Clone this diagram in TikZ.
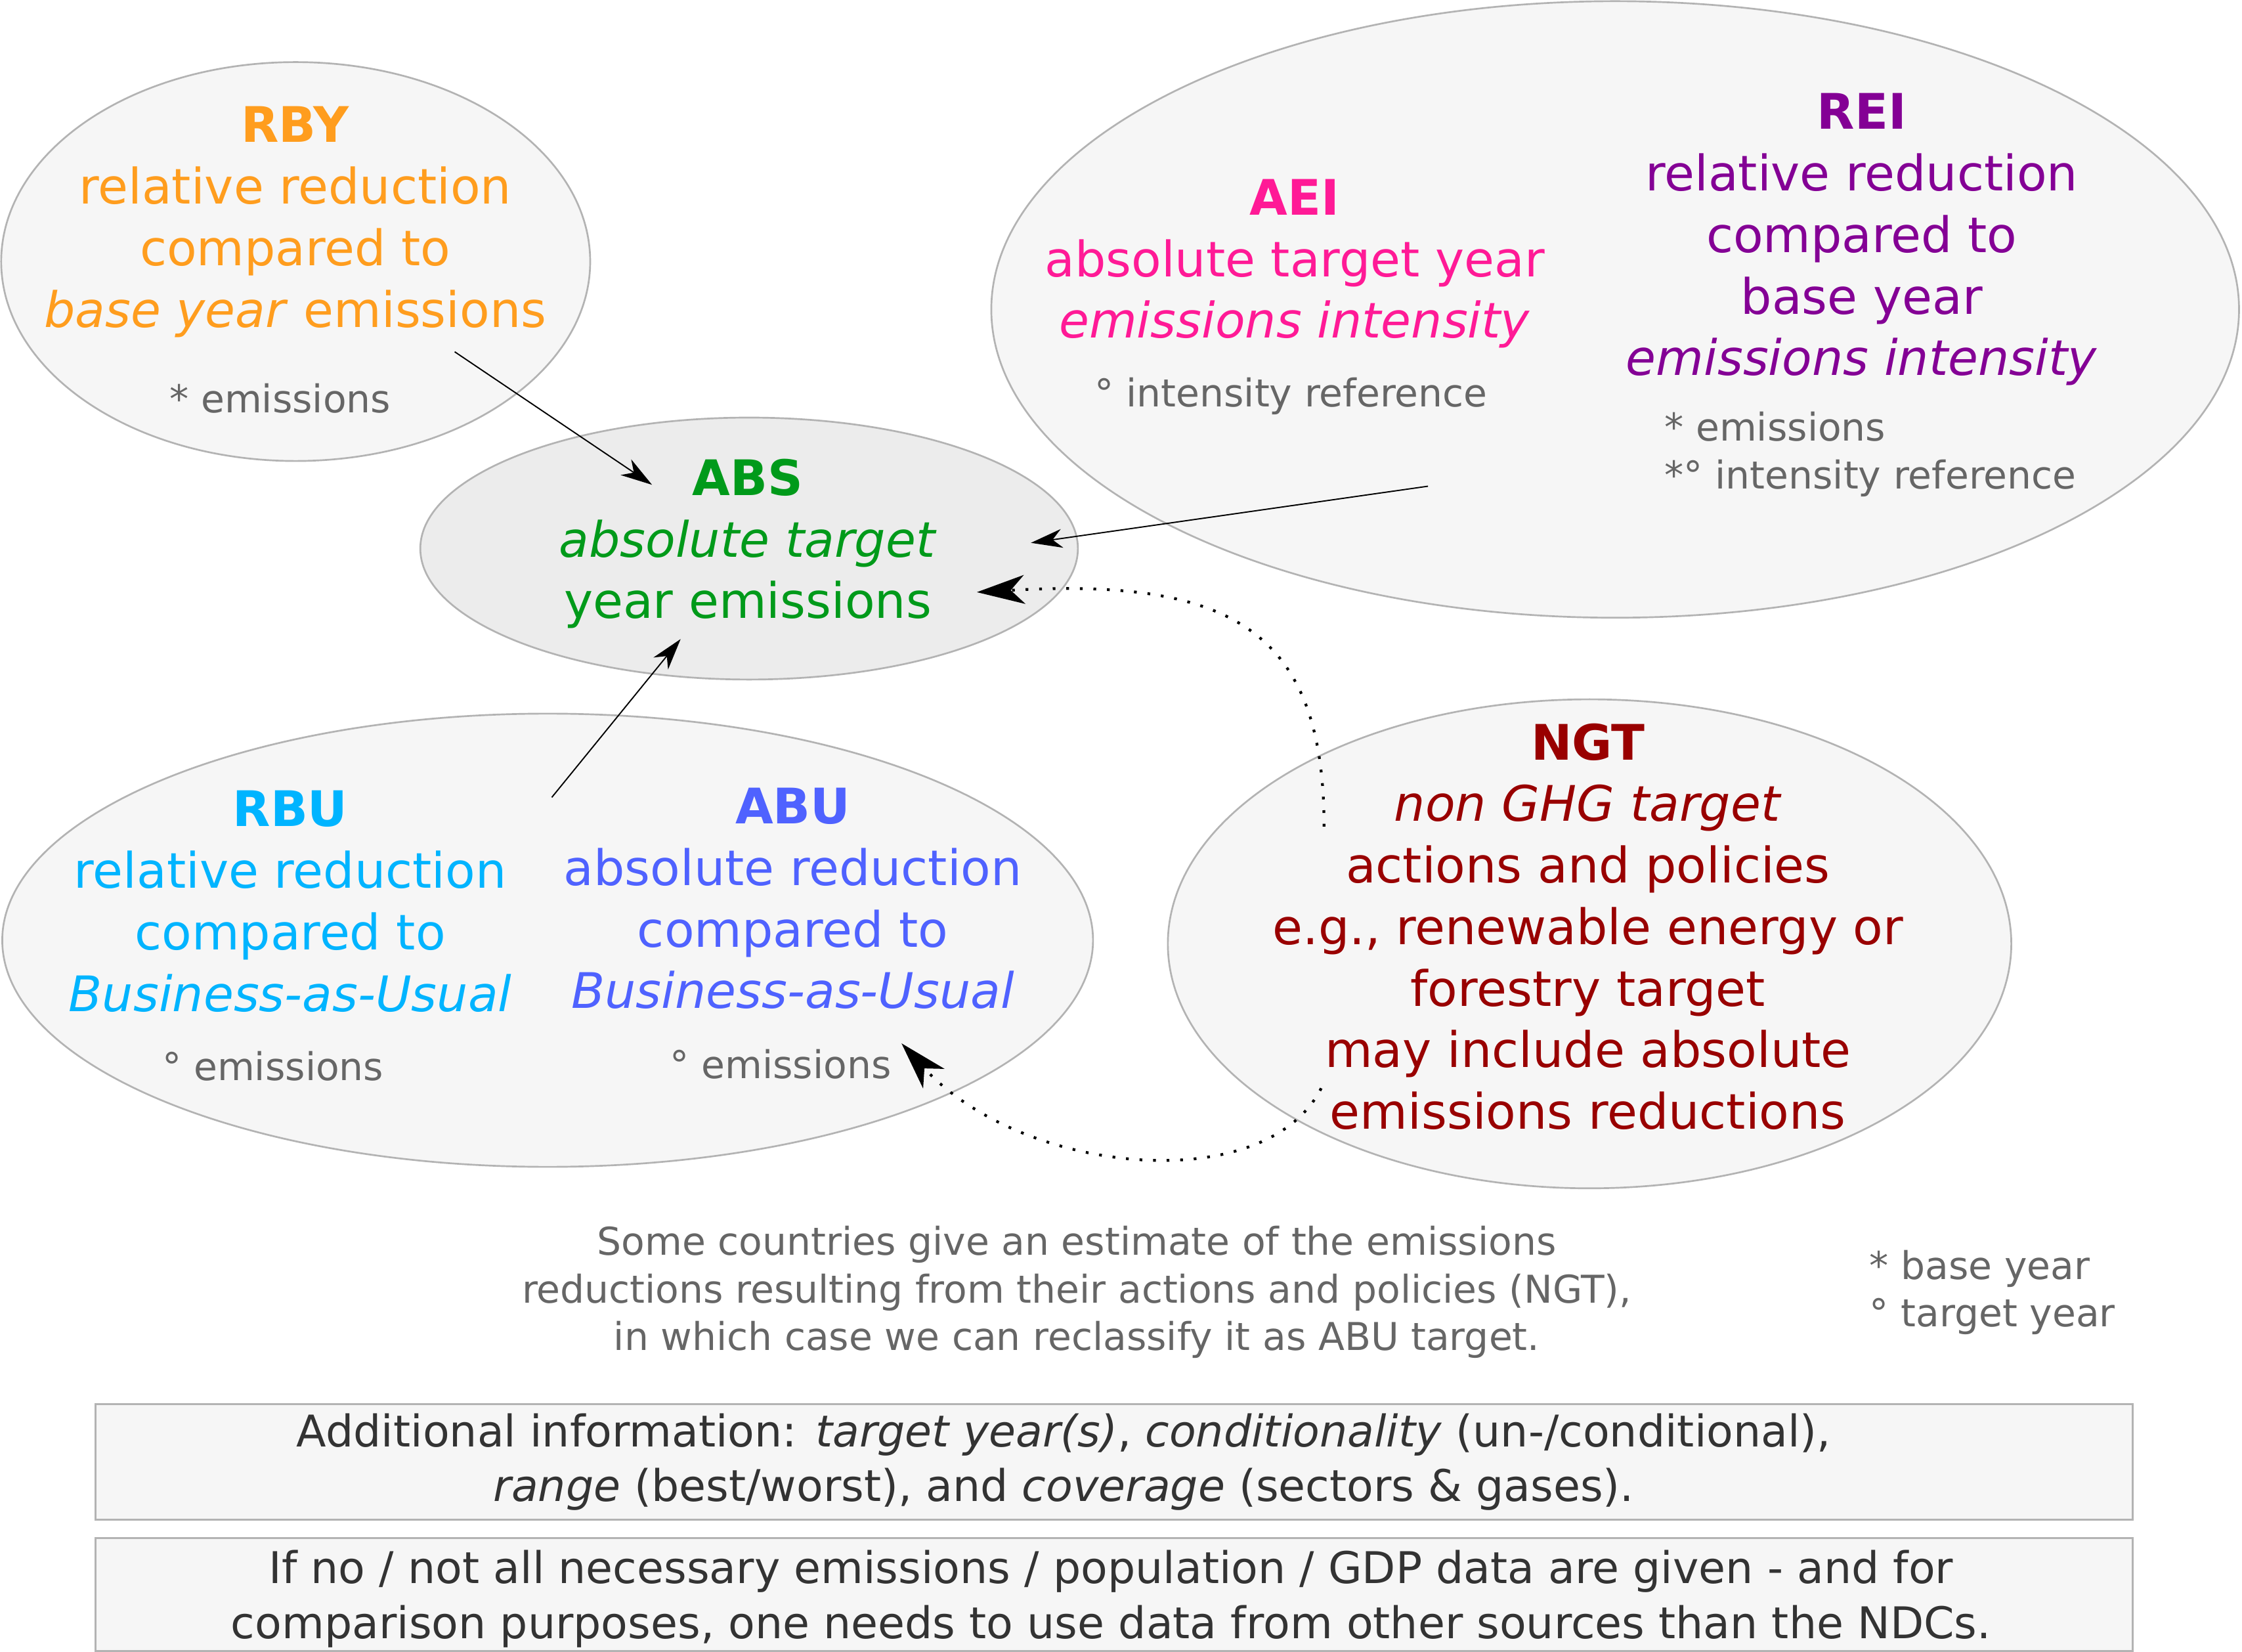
\documentclass[tikz,border=0pt]{standalone}
\usepackage{fontspec}
\setmainfont{DejaVu Sans}
\usetikzlibrary{shapes.geometric,arrows.meta}

\definecolor{cRBY}{HTML}{FF9D1E}
\definecolor{cABS}{HTML}{009A1A}
\definecolor{cAEI}{HTML}{FF1A96}
\definecolor{cREI}{HTML}{840095}
\definecolor{cRBU}{HTML}{00B4FF}
\definecolor{cABU}{HTML}{4F62FF}
\definecolor{cNGT}{HTML}{990000}
\definecolor{notegray}{HTML}{666666}
\definecolor{boxink}{HTML}{333333}
\definecolor{bubblefill}{HTML}{F6F6F6}
\definecolor{corefill}{HTML}{ECECEC}
\definecolor{rim}{HTML}{B3B3B3}

\newcommand\mainsize{\fontsize{19.5}{24.5}\selectfont}
\newcommand\notesize{\fontsize{15.25}{19}\selectfont}
\newcommand\infosize{\fontsize{17.4}{21.8}\selectfont}

\begin{document}
\begin{tikzpicture}[x=0.02cm,y=-0.02cm,
  bubble/.style={ellipse, draw=rim, line width=0.7pt, fill=bubblefill, inner sep=0pt},
  heading/.style={inner sep=0pt, outer sep=0pt, align=center, font=\mainsize, anchor=north},
  remark/.style={inner sep=0pt, outer sep=0pt, text=notegray, font=\notesize},
  infobox/.style={draw=rim, line width=0.8pt, fill=bubblefill, inner sep=0pt},
  infotext/.style={inner sep=0pt, outer sep=0pt, align=center, text=boxink, font=\infosize, anchor=north},
  link/.style={line width=0.5pt, -{Stealth[length=12.5pt,width=7.5pt,inset=3.8pt]}},
  hint/.style={line width=1.1pt, dash pattern=on 1.1pt off 4.3pt,
    -{Stealth[length=19pt,width=11.5pt,inset=5.5pt]}}]

\useasboundingbox (0,0) rectangle (1568,1155);

% target-type bubbles
\node[bubble, minimum width=8.24cm, minimum height=5.58cm] (rby) at (206.8,182.9) {};
\node[bubble, fill=corefill, minimum width=9.2cm, minimum height=3.664cm] (abs) at (523.9,383.6) {};
\node[bubble, minimum width=17.456cm, minimum height=8.624cm] (intensity) at (1129.6,216.4) {};
\node[bubble, minimum width=15.26cm, minimum height=6.34cm] (bau) at (383,657.5) {};
\node[bubble, minimum width=11.8cm, minimum height=6.84cm] (ngt) at (1111.7,660) {};

% bubble texts
\node[heading, text=cRBY] (rbyText) at (206.5,69.4)
  {\strut\textbf{RBY}\\relative reduction\\compared to\\\textit{base year} emissions};
\node[remark, anchor=base] (rbyNote) at (196,288.4) {* emissions};

\node[heading, text=cABS] (absText) at (523,316.2)
  {\strut\textbf{ABS}\\\textit{absolute target}\\year emissions};

\node[heading, text=cAEI] (aeiText) at (905.5,120.2)
  {\strut\textbf{AEI}\\absolute target year\\\textit{emissions intensity}};
\node[remark, anchor=base] (aeiNote) at (903,284.4) {° intensity reference};

\node[heading, text=cREI] (reiText) at (1302,60.3)
  {\strut\textbf{REI}\\relative reduction\\compared to\\base year\\\textit{emissions intensity}};
\node[remark, anchor=north west, align=left] (reiNote) at (1164.2,284.9)
  {\strut* emissions\\{}*° intensity reference};

\node[heading, text=cRBU] (rbuText) at (203,547.9)
  {\strut\textbf{RBU}\\relative reduction\\compared to\\\textit{Business-as-Usual}};
\node[remark, anchor=base] (rbuNote) at (191,755.6) {° emissions};

\node[heading, text=cABU] (abuText) at (554.5,545.9)
  {\strut\textbf{ABU}\\absolute reduction\\compared to\\\textit{Business-as-Usual}};
\node[remark, anchor=base] (abuNote) at (546,754.1) {° emissions};

\node[heading, text=cNGT] (ngtText) at (1110.6,501.2)
  {\strut\textbf{NGT}\\\textit{non GHG target}\\actions and policies\\e.g., renewable energy or\\forestry target\\may include absolute\\emissions reductions};

% explanatory notes
\node[remark, anchor=north, align=center] (reclassNote) at (753,854.3)
  {\strut Some countries give an estimate of the emissions\\reductions resulting from their actions and policies (NGT),\\in which case we can reclassify it as ABU target.};
\node[remark, anchor=north west, align=left] (legend) at (1307.6,871.1)
  {\strut* base year\\° target year};

% information boxes
\node[infobox, minimum width=28.504cm, minimum height=1.61cm] (infoA) at (779.1,1022.25) {};
\node[infobox, minimum width=28.504cm, minimum height=1.58cm] (infoB) at (779.1,1114.9) {};
\node[infotext] (infoAText) at (744,984.8)
  {\strut Additional information: \textit{target year(s)}, \textit{conditionality} (un-/conditional),\\\textit{range} (best/worst), and \textit{coverage} (sectors \& gases).};
\node[infotext] (infoBText) at (777,1080.5)
  {\strut If no / not all necessary emissions / population / GDP data are given - and for\\comparison purposes, one needs to use data from other sources than the NDCs.};

% connector end points
\coordinate (rbyOut) at (318,246);
\coordinate (absInRBY) at (456,339);
\coordinate (intOut) at (998.7,340);
\coordinate (absInINT) at (721,379.6);
\coordinate (bauOut) at (385.9,557.6);
\coordinate (absInBAU) at (476,446.9);
\coordinate (ngtUp) at (926,578);
\coordinate (absInNGT) at (683.2,414.1);
\coordinate (ngtDown) at (924,761);
\coordinate (abuInNGT) at (630.5,729.6);

% connectors
\draw[link] (rbyOut) -- (absInRBY);
\draw[link] (intOut) -- (absInINT);
\draw[link] (bauOut) -- (absInBAU);
\draw[hint] (ngtUp) .. controls (926,440) and (860,404) .. (absInNGT);
\draw[hint] (ngtDown) .. controls (885,838) and (715,822) .. (abuInNGT);
\end{tikzpicture}
\end{document}
